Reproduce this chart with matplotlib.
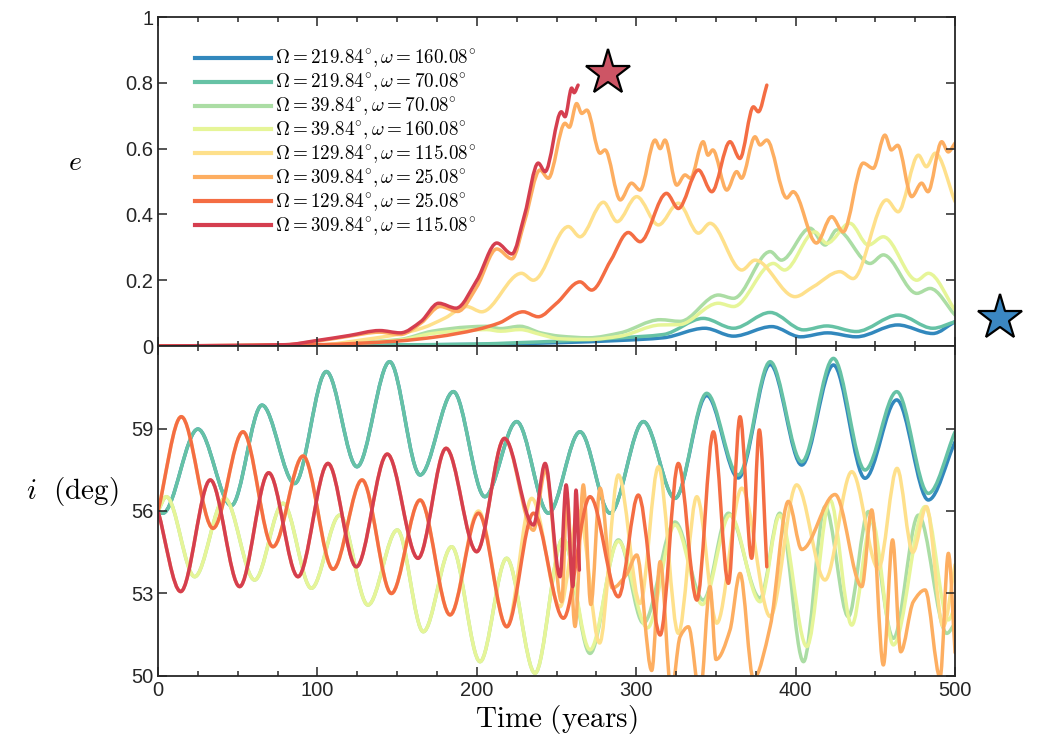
import numpy as np
import matplotlib
matplotlib.use("Agg")
import matplotlib.pyplot as plt
from matplotlib.path import Path
from matplotlib.patches import PathPatch
from matplotlib.lines import Line2D

plt.rcParams['mathtext.fontset'] = 'cm'
plt.rcParams['font.family'] = ['Liberation Sans', 'DejaVu Sans']

# ---- series labels and colours (Spectral palette) ----
labels = [
    r'$\Omega=219.84^{\circ},\omega=160.08^{\circ}$',
    r'$\Omega=219.84^{\circ},\omega=70.08^{\circ}$',
    r'$\Omega=39.84^{\circ},\omega=70.08^{\circ}$',
    r'$\Omega=39.84^{\circ},\omega=160.08^{\circ}$',
    r'$\Omega=129.84^{\circ},\omega=115.08^{\circ}$',
    r'$\Omega=309.84^{\circ},\omega=25.08^{\circ}$',
    r'$\Omega=129.84^{\circ},\omega=25.08^{\circ}$',
    r'$\Omega=309.84^{\circ},\omega=115.08^{\circ}$',
]
colors = ['#3288bd', '#66c2a5', '#abdda4', '#e6f598',
          '#fee08b', '#fdae61', '#f46d43', '#d53e4f']

# ---- eccentricity e(t) ----
e_t_blue = [0, 100, 200, 250, 290, 317, 343, 361, 385, 403, 420, 438, 464, 486, 500]
e_blue = [0, 0.002, 0.005, 0.01, 0.017, 0.025, 0.054, 0.03, 0.059, 0.028, 0.04, 0.028, 0.064, 0.038, 0.074]

e_t_teal = [0, 100, 200, 225, 252, 290, 317, 342, 361, 384, 405, 419.5, 438, 464.4, 486, 500]
e_teal = [0, 0.002, 0.006, 0.01, 0.015, 0.025, 0.035, 0.084, 0.054, 0.102, 0.049, 0.061, 0.044, 0.094, 0.054, 0.074]

e_t_green = [0, 100, 130, 152, 172, 195, 206, 215, 227, 240, 252, 270, 290, 315, 327.5,
             351.5, 361, 384, 391, 409, 418.5, 425.8, 446.7, 455, 476, 484.3, 500]
e_green = [0, 0.003, 0.012, 0.02, 0.045, 0.058, 0.06, 0.053, 0.06, 0.04, 0.03, 0.025, 0.04, 0.08, 0.075,
           0.155, 0.145, 0.287, 0.261, 0.358, 0.307, 0.353, 0.251, 0.277, 0.16, 0.175, 0.094]

e_t_ygreen = [0, 100, 130, 152, 172, 195, 206, 215, 227, 240, 252, 270, 290, 315, 327,
              351.5, 361, 386, 393, 412, 419.5, 434, 445.6, 455, 476, 483.3, 500]
e_ygreen = [0, 0.003, 0.01, 0.018, 0.038, 0.048, 0.05, 0.045, 0.05, 0.035, 0.022, 0.02, 0.03, 0.064, 0.065,
            0.13, 0.12, 0.251, 0.231, 0.347, 0.312, 0.373, 0.307, 0.332, 0.2, 0.221, 0.109]

e_t_lyellow = [0, 100, 130, 150, 166, 180, 193.6, 203, 228, 235.4, 257.4, 264.7, 279.4, 288, 300.3,
               313.9, 326.4, 339, 346.3, 366.2, 374.5, 399.6, 411, 427.8, 436, 457, 464.3, 477, 482,
               487.5, 500]
e_lyellow = [0, 0.003, 0.02, 0.035, 0.055, 0.085, 0.12, 0.104, 0.221, 0.2, 0.363, 0.332, 0.437, 0.378, 0.454,
             0.368, 0.434, 0.343, 0.373, 0.231, 0.261, 0.15, 0.18, 0.226, 0.205, 0.444, 0.408, 0.58, 0.545,
             0.586, 0.439]

e_t_orange = [0, 80, 100, 120, 139, 152, 165, 177, 188, 200, 212.5, 222, 230, 239.6, 244.8, 255.3, 258,
              262.6, 265.8, 269, 277.3, 280.4, 290, 297, 302.4, 311.8, 315, 318, 325.4, 330.6, 334,
              342, 345, 348, 356.8, 363, 366, 374.5, 377.7, 381.9, 394.4, 398.4, 413, 422.6, 429.8,
              442.4, 448.6, 456, 460, 464, 472.8, 479, 483, 491.6, 495.7, 500]
e_orange = [0, 0.004, 0.015, 0.03, 0.042, 0.035, 0.07, 0.12, 0.105, 0.18, 0.295, 0.265, 0.38, 0.535, 0.51,
            0.677, 0.665, 0.737, 0.707, 0.717, 0.586, 0.596, 0.444, 0.495, 0.474, 0.626, 0.60, 0.626,
            0.489, 0.52, 0.51, 0.621, 0.58, 0.596, 0.474, 0.53, 0.51, 0.636, 0.611, 0.626, 0.45, 0.469,
            0.313, 0.393, 0.347, 0.556, 0.54, 0.641, 0.596, 0.61, 0.454, 0.495, 0.469, 0.621, 0.59, 0.617]

e_t_ored = [0, 100, 150, 175, 200, 214, 229, 238.5, 250, 264.7, 272, 284, 295, 302.4, 319, 326.4,
            339, 347.4, 358.8, 365, 373.5, 376.6, 381.9]
e_ored = [0, 0.004, 0.015, 0.028, 0.05, 0.07, 0.104, 0.089, 0.13, 0.195, 0.17, 0.26, 0.345, 0.317, 0.464,
          0.418, 0.535, 0.469, 0.621, 0.57, 0.727, 0.712, 0.793]

e_t_red = [0, 80, 100, 120, 139, 152, 165, 176, 187, 200, 212.5, 222, 230, 238.5, 242.8, 253, 255.3,
           259.5, 261, 263.5]
e_red = [0, 0.004, 0.017, 0.032, 0.047, 0.04, 0.075, 0.13, 0.115, 0.2, 0.313, 0.28, 0.4, 0.556, 0.53,
         0.712, 0.697, 0.784, 0.77, 0.793]

# ---- inclination i(t) in degrees ----
i_t_teal = [0, 3, 25, 46, 65.2, 85.7, 105.6, 124.8, 145.3, 164.4, 185.3, 205, 225, 244.9, 264.7,
            283.6, 304.5, 324.3, 344.2, 364, 384, 403.8, 423.7, 443.5, 463.4, 483.2, 500]
i_teal = [56.0, 55.92, 58.98, 56.2, 59.85, 57.0, 61.07, 57.61, 61.43, 57.31, 60.34, 56.52, 59.25, 55.92,
          58.88, 55.92, 59.25, 56.46, 60.28, 57.31, 61.43, 57.79, 61.55, 57.49, 60.34, 56.64, 58.88]

i_t_blue = i_t_teal
i_blue = [56.0, 55.92, 58.98, 56.2, 59.85, 57.0, 61.07, 57.61, 61.43, 57.31, 60.34, 56.52, 59.25, 55.92,
          58.88, 55.92, 59.25, 56.46, 60.2, 57.2, 61.33, 57.67, 61.31, 57.19, 60.04, 56.4, 58.52]

i_t_green = [0, 5.2, 23, 41.8, 60.6, 78.4, 96.2, 114, 131.7, 150.1, 166.4, 184.2, 202, 218.7, 236.5,
             254, 271, 288.8, 304.5, 324.3, 342, 357.8, 377.7, 390, 404.9, 418.5, 433, 445.6, 461.3,
             477, 494.8, 500]
i_green = [56.0, 56.52, 53.61, 56.46, 53.49, 56.28, 53.19, 55.85, 52.58, 55.31, 51.61, 54.7, 50.52, 54.28,
           50.1, 55.0, 50.82, 54.95, 51.92, 55.6, 52.76, 55.92, 52.83, 55.92, 50.52, 56.16, 52.16, 55.98,
           51.37, 55.85, 51.55, 51.92]

i_t_ygreen = [0, 5.2, 23, 41.8, 60.6, 78.4, 96.2, 114, 131.7, 150.1, 166.4, 184.2, 202, 218.7, 236.5,
              254, 271, 288.8, 307, 324.3, 341.5, 358.8, 377.7, 390, 407, 421.6, 435.2, 447.7, 461.3,
              481.2, 495.8, 500]
i_ygreen = [56.0, 56.52, 53.61, 56.46, 53.49, 56.28, 53.19, 55.85, 52.58, 55.31, 51.61, 54.7, 50.52, 54.28,
            50.1, 55.0, 50.95, 54.9, 51.75, 55.5, 52.6, 55.85, 52.7, 55.85, 51.07, 56.4, 51.85, 55.67,
            51.13, 56.16, 52.04, 52.52]

i_t_lyellow = [0, 14.6, 34.5, 53.3, 72.1, 91, 109.8, 128, 146.4, 164.4, 183.2, 201, 218.8, 234.4,
               252.2, 264, 277, 288.8, 302.4, 313.9, 326.4, 338, 350.5, 366.2, 384, 400.6, 418.4,
               435.2, 451.9, 463.6, 473.5, 482, 492.5, 500]
i_lyellow = [56.0, 59.43, 55.37, 58.88, 54.7, 58.0, 53.88, 57.13, 53.0, 56.4, 52.22, 56.0, 51.79, 56.46,
             52.52, 56.0, 51.2, 57.31, 52.64, 57.61, 51.55, 56.52, 51.92, 56.83, 52.16, 56.95, 53.49,
             57.43, 53.9, 57.55, 54.5, 56.16, 51.8, 54.05]

i_t_orange = [0, 14.2, 32.8, 51.2, 69.4, 87.8, 106.6, 124.4, 143.8, 163.1, 180.7, 199.9, 217.3, 235.5,
              243, 253.2, 256.6, 261.6, 266.8, 271.5, 277.3, 285, 294, 300.3, 309.7, 315, 322, 327.5,
              332.7, 340, 346.3, 350, 358.8, 365.1, 373.5, 384, 395.4, 403.8, 424.7, 441.5, 447.7, 455,
              460.8, 465.9, 473.8, 481.2, 490.6, 495.8, 500]
i_orange = [56.0, 53.07, 57.13, 53.25, 57.39, 53.61, 57.73, 53.97, 58.07, 54.28, 58.28, 54.52, 58.64, 55.3,
            57.5, 52.7, 56.5, 51.8, 56.95, 52.6, 56.83, 53.2, 53.7, 54.4, 50.2, 54.16, 49.4, 51.43,
            51.79, 49.3, 53.25, 50.6, 51.67, 53.73, 49.9, 51.8, 56.35, 54.6, 56.6, 53.25, 56.04, 50.4,
            54.95, 50.88, 52.7, 53.13, 49.95, 54.46, 50.85]

i_t_ored = [0, 14.6, 34.5, 53.3, 72.1, 91, 109.8, 128, 146.4, 164.4, 183.2, 201, 218.8, 235.5, 254.3,
            271, 288.8, 301.3, 315, 326.4, 338, 348.4, 357.8, 365.1, 372.4, 377.2, 381.9]
i_ored = [56.0, 59.43, 55.37, 58.88, 54.7, 58.0, 53.88, 57.13, 53.0, 56.4, 52.22, 55.92, 51.79, 55.92,
          52.1, 56.52, 52.88, 56.58, 51.49, 57.73, 52.76, 58.88, 53.37, 59.43, 54.28, 58.95, 53.97]

i_t_red = [0, 14.2, 32.8, 51.2, 69.4, 87.8, 106.6, 124.4, 143.8, 163.1, 180.7, 199.9, 217.3, 235.5,
           242.8, 252.2, 256, 260.2, 262.2, 264.3]
i_red = [56.0, 53.07, 57.13, 53.25, 57.39, 53.61, 57.73, 53.97, 58.07, 54.28, 58.28, 54.52, 58.64, 55.49,
         57.73, 53.61, 56.95, 53.25, 56.76, 53.85]

e_series = [(e_t_blue, e_blue), (e_t_teal, e_teal), (e_t_green, e_green), (e_t_ygreen, e_ygreen),
            (e_t_lyellow, e_lyellow), (e_t_orange, e_orange), (e_t_ored, e_ored), (e_t_red, e_red)]
i_series = [(i_t_blue, i_blue), (i_t_teal, i_teal), (i_t_green, i_green), (i_t_ygreen, i_ygreen),
            (i_t_lyellow, i_lyellow), (i_t_orange, i_orange), (i_t_ored, i_ored), (i_t_red, i_red)]

# star markers: (time, e)
star_red = (282, 0.83)
star_blue = (528, 0.085)

x_ticks = [0, 100, 200, 300, 400, 500]
e_ticks = [0, 0.2, 0.4, 0.6, 0.8, 1]
e_ticklabels = ['0', '0.2', '0.4', '0.6', '0.8', '1']
i_ticks = [50, 53, 56, 59]


def smooth_path(t, y):
    """Cubic Bezier path through the samples with monotone (shape-preserving) tangents."""
    t = np.asarray(t, float)
    y = np.asarray(y, float)
    h = np.diff(t)
    d = np.diff(y) / h
    m = np.zeros_like(y)
    m[0] = d[0]
    m[-1] = d[-1]
    for k in range(1, len(y) - 1):
        if d[k - 1] * d[k] <= 0:
            m[k] = 0.0
        else:
            w1 = 2 * h[k] + h[k - 1]
            w2 = h[k] + 2 * h[k - 1]
            m[k] = (w1 + w2) / (w1 / d[k - 1] + w2 / d[k])
    verts = [(t[0], y[0])]
    codes = [Path.MOVETO]
    for k in range(len(h)):
        verts += [(t[k] + h[k] / 3, y[k] + m[k] * h[k] / 3),
                  (t[k + 1] - h[k] / 3, y[k + 1] - m[k + 1] * h[k] / 3),
                  (t[k + 1], y[k + 1])]
        codes += [Path.CURVE4] * 3
    return Path(verts, codes)


fig = plt.figure(figsize=(10.37, 7.43), dpi=100)
ax1 = fig.add_axes([0.1524, 0.5343, 0.7686, 0.4428])
ax2 = fig.add_axes([0.1524, 0.0902, 0.7686, 0.4441])

LW = 2.5
for ax, series in ((ax1, e_series), (ax2, i_series)):
    for (tt, vv), c in zip(series, colors):
        ax.add_patch(PathPatch(smooth_path(tt, vv), facecolor='none', edgecolor=c,
                               lw=LW, capstyle='round', joinstyle='round'))

ax1.plot(*star_red, marker='*', ms=34, mfc='#cd5565', mec='black', mew=1.6, zorder=5)
ax1.plot(*star_blue, marker='*', ms=34, mfc='#3b87c2', mec='black', mew=1.6, zorder=5,
         clip_on=False)

ax1.set_xlim(0, 500)
ax1.set_ylim(0, 1)
ax2.set_xlim(0, 500)
ax2.set_ylim(50, 62)

spine_c = '#262626'
for ax in (ax1, ax2):
    ax.set_xticks(x_ticks)
    ax.set_xticks(np.arange(0, 501, 25), minor=True)
    ax.tick_params(which='both', direction='in', top=True, right=True,
                   color=spine_c, labelcolor=spine_c, labelsize=14.5, width=1.1)
    ax.tick_params(which='major', length=6.5)
    ax.tick_params(which='minor', length=3.5)
    for s in ax.spines.values():
        s.set_color(spine_c)
        s.set_linewidth(1.3)

ax1.set_yticks(e_ticks)
ax1.set_yticklabels(e_ticklabels)
ax1.tick_params(axis='x', labelbottom=False)
ax2.set_yticks(i_ticks)

ax1.set_ylabel(r'$e$', fontsize=20, rotation=0, ha='center', va='center')
ax1.yaxis.set_label_coords(-0.104, 0.556)
ax2.set_ylabel(r'$i\ \ (\mathrm{deg})$', fontsize=21, rotation=0, ha='center', va='center')
ax2.yaxis.set_label_coords(-0.107, 0.558)
ax2.set_xlabel(r'$\mathrm{Time\ (years)}$', fontsize=21, labelpad=2)

handles = [Line2D([], [], color=c, lw=3) for c in colors]
ax1.legend(handles, labels, loc='upper left', bbox_to_anchor=(0.046, 0.905),
           frameon=False, fontsize=13.75, handlelength=4.0, handletextpad=0.2,
           labelspacing=0.1, borderpad=0, borderaxespad=0)

fig.savefig('out.png', dpi=100)
